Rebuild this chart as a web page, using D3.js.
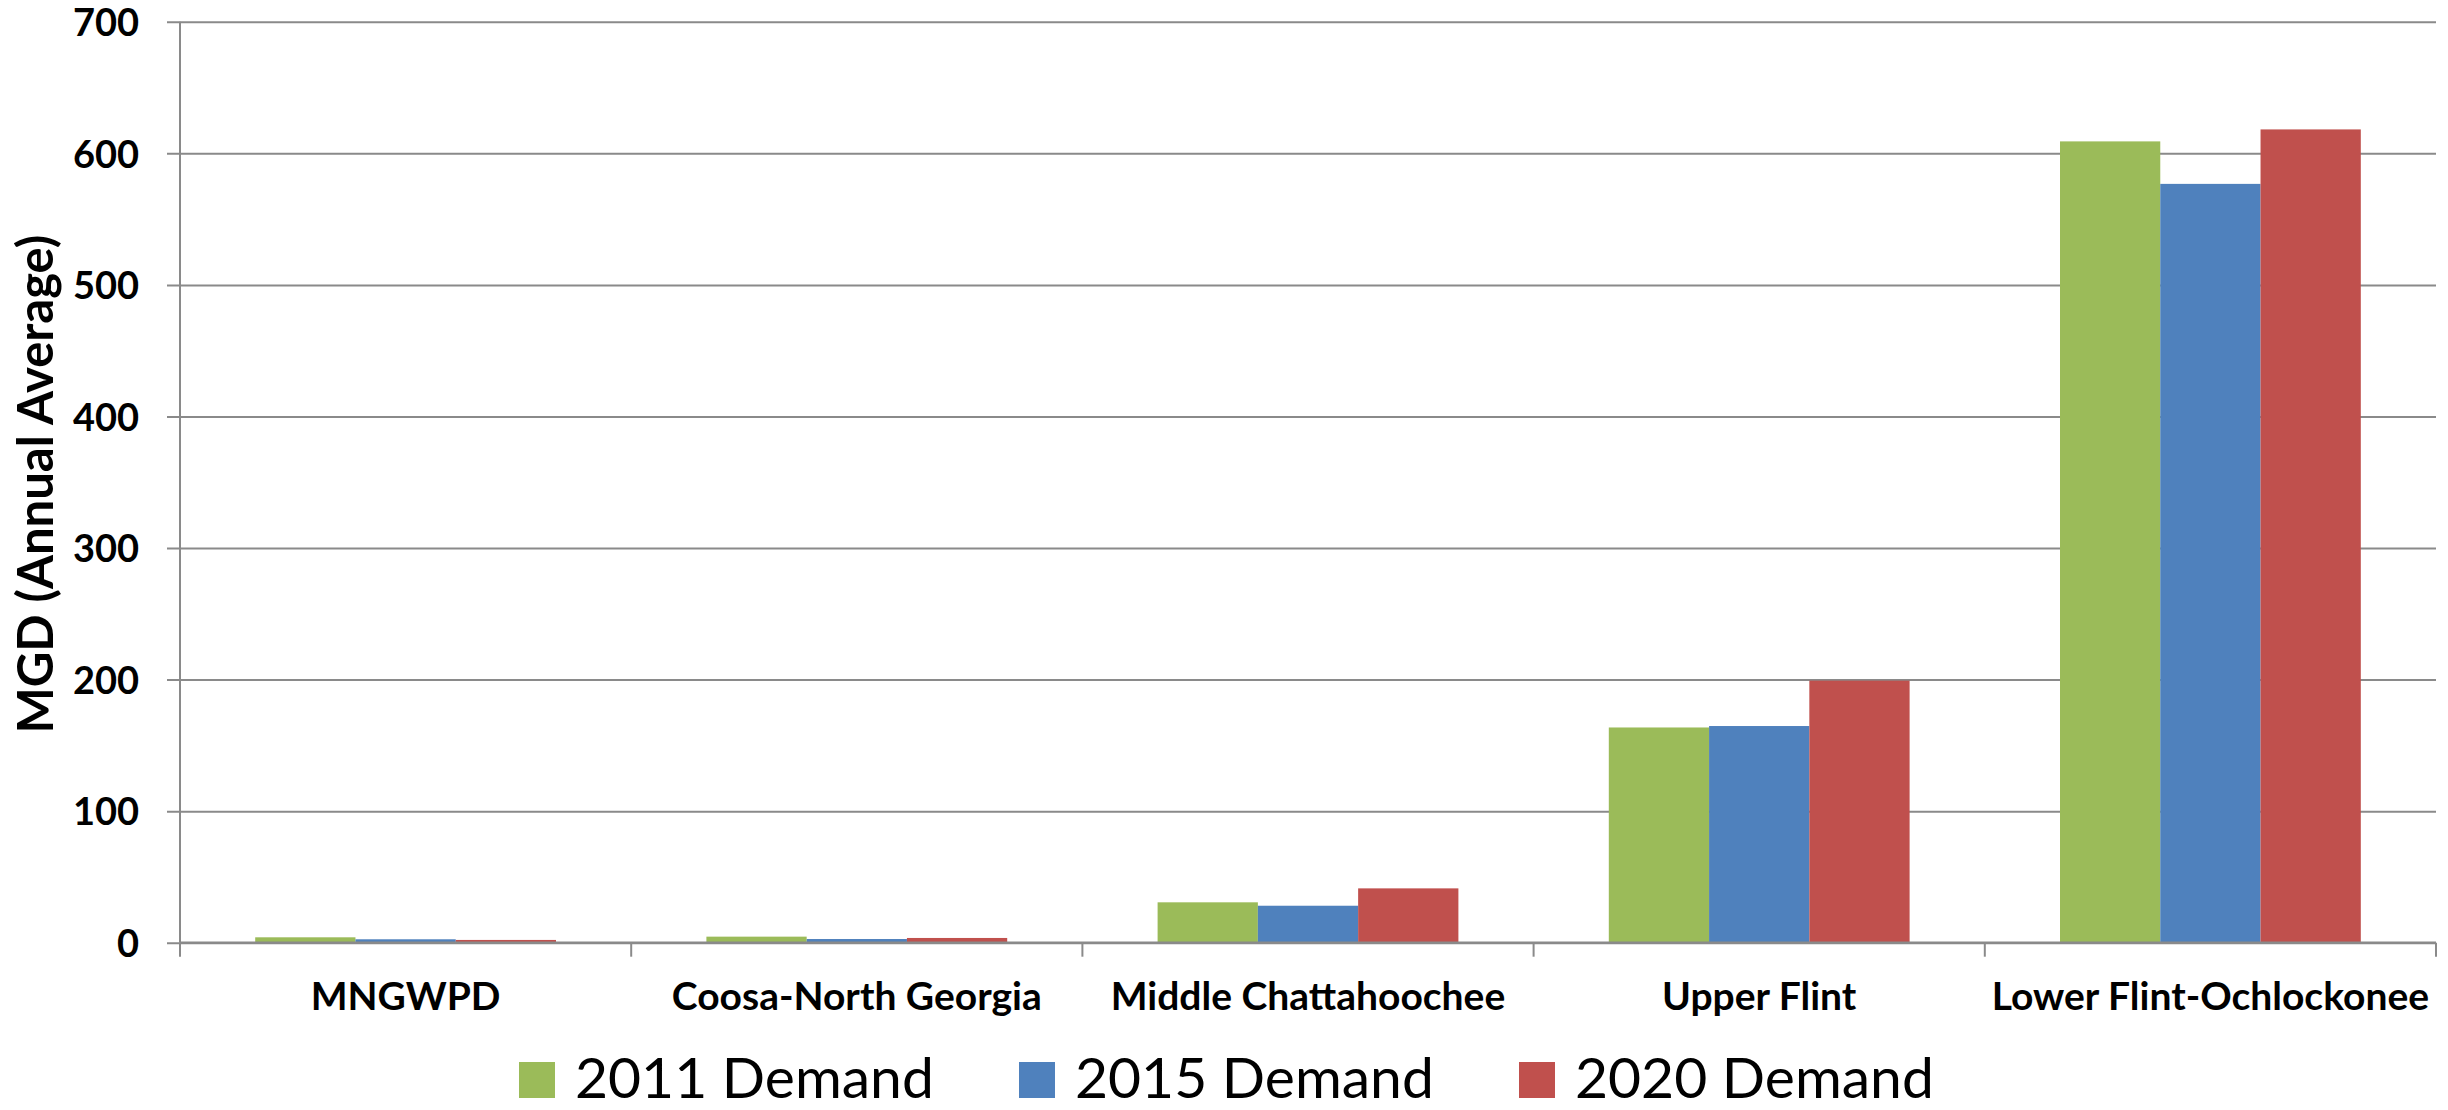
<!DOCTYPE html>
<html>
<head>
<meta charset="utf-8">
<script src="https://cdn.jsdelivr.net/npm/d3@7"></script>
<style>
    body { margin: 0; background: #fff; }
    svg { display: block; font-family: Lato, "Open Sans", sans-serif; }
</style>
</head>
<body>
<div id="chart"></div>
<script>
// values (MGD, annual average)
const categories = ["MNGWPD", "Coosa-North Georgia", "Middle Chattahoochee", "Upper Flint", "Lower Flint-Ochlockonee"];
const seriesNames = ["2011 Demand", "2015 Demand", "2020 Demand"];
const demand2011 = [4.1, 4.6, 30.7, 163.6, 609.1];
const demand2015 = [2.6, 2.8, 28.1, 164.7, 576.8];
const demand2020 = [2.1, 3.6, 41.3, 199.2, 618.2];
const yTicks = [0, 100, 200, 300, 400, 500, 600, 700];
const seriesColors = ["#9BBB59", "#4F81BD", "#C0504D"];

const allSeries = [demand2011, demand2015, demand2020];

let width = 2448;
let height = 1110;
let plotLeft = 180, plotRight = 2436, plotTop = 21.8, plotBottom = 942.7;
let gridColor = "#8a8a8a";

let svg = d3.select("#chart")
    .append("svg")
    .attr("width", width)
    .attr("height", height);

let y = d3.scaleLinear()
    .domain([0, 700])
    .range([plotBottom, plotTop]);

// Excel style: gap width 150% between clusters
let x0 = d3.scaleBand()
    .domain(categories)
    .range([plotLeft, plotRight])
    .paddingInner(1 / 3)
    .paddingOuter(1 / 6);

let x1 = d3.scaleBand()
    .domain(seriesNames)
    .range([0, x0.bandwidth()]);

// gridlines + y labels
let yAxis = svg.append("g")
    .attr("transform", "translate(" + (plotLeft - 13) + ",0)")
    .call(d3.axisLeft(y).tickValues(yTicks).tickSize(-(plotRight - plotLeft + 13)).tickPadding(28))
    .attr("font-family", null)
    .attr("font-size", null);
yAxis.select(".domain").remove();
yAxis.selectAll(".tick line")
    .attr("stroke", gridColor)
    .attr("stroke-width", 2);
yAxis.selectAll(".tick text")
    .attr("fill", "#000")
    .attr("dy", "0.36em")
    .style("font-size", "38px")
    .style("font-weight", "bold");

// bars
let groups = svg.append("g")
    .selectAll("g")
    .data(categories)
    .enter()
    .append("g")
    .attr("transform", d => "translate(" + x0(d) + ",0)");

groups.selectAll("rect")
    .data((d, i) => seriesNames.map((s, j) => ({ series: s, value: allSeries[j][i], color: seriesColors[j] })))
    .enter()
    .append("rect")
    .attr("x", d => x1(d.series))
    .attr("y", d => y(d.value))
    .attr("width", x1.bandwidth())
    .attr("height", d => y(0) - y(d.value))
    .attr("fill", d => d.color);

// left axis line
svg.append("line")
    .attr("x1", plotLeft).attr("x2", plotLeft)
    .attr("y1", y(700)).attr("y2", y(0))
    .attr("stroke", gridColor)
    .attr("stroke-width", 2);

// bottom axis: labels centred, ticks on category boundaries
let xAxis = svg.append("g")
    .attr("transform", "translate(0," + plotBottom + ")")
    .call(d3.axisBottom(x0).tickSize(0).tickPadding(40))
    .attr("font-family", null)
    .attr("font-size", null);
xAxis.select(".domain").remove();
xAxis.selectAll(".tick text")
    .attr("fill", "#000")
    .style("font-size", "39px")
    .style("font-weight", "bold");

svg.append("line")
    .attr("x1", plotLeft).attr("x2", plotRight)
    .attr("y1", plotBottom).attr("y2", plotBottom)
    .attr("stroke", gridColor)
    .attr("stroke-width", 2.5);

let half = (x0.step() - x0.bandwidth()) / 2;
let bounds = categories.map(c => x0(c) - half).concat([plotRight]);
svg.append("g")
    .selectAll("line")
    .data(bounds)
    .enter()
    .append("line")
    .attr("x1", d => d).attr("x2", d => d)
    .attr("y1", plotBottom).attr("y2", plotBottom + 14)
    .attr("stroke", gridColor)
    .attr("stroke-width", 2);

// y axis title
svg.append("text")
    .attr("transform", "translate(53," + ((plotTop + plotBottom) / 2 + 2) + ") rotate(-90)")
    .attr("text-anchor", "middle")
    .style("font-size", "49px")
    .style("font-weight", "bold")
    .text("MGD (Annual Average)");

// legend
let legend = svg.append("g")
    .selectAll("g")
    .data(seriesNames)
    .enter()
    .append("g")
    .attr("transform", (d, i) => "translate(" + (519 + i * 500) + ",1062)");

legend.append("rect")
    .attr("width", 36)
    .attr("height", 36)
    .attr("fill", (d, i) => seriesColors[i]);

legend.append("text")
    .attr("x", 56)
    .attr("y", 36)
    .style("font-size", "57px")
    .text(d => d);
</script>
</body>
</html>
